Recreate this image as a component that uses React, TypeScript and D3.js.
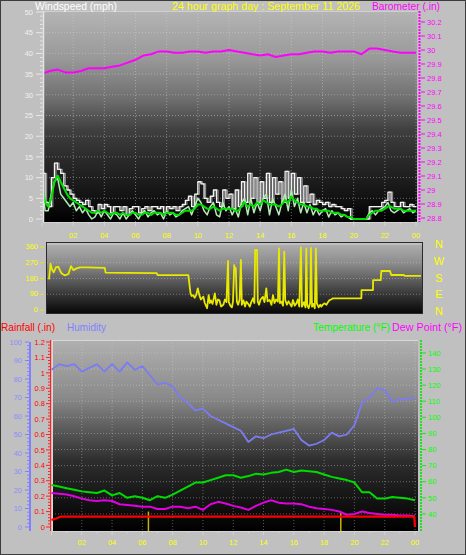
import React from 'react';
import * as d3 from 'd3';

// ---------------- data ----------------
const WIND_STEP_H = 0.2; // hours between wind samples
const windGust = [
  11, 4, 3, 10, 13.5, 12, 11, 8, 7, 6,
  5, 4.5, 4, 3.5, 4.5, 3, 2, 1.5, 3.5, 2.5,
  3.5, 3, 1.5, 3, 3, 2, 3, 1, 2.5, 3,
  3, 1.5, 2.5, 3, 2, 3, 3, 2.5, 3, 1.5,
  3, 2.5, 3, 2, 3, 3.5, 4.5, 5.5, 3, 6,
  9, 8.5, 5, 4, 5.5, 7, 4, 3, 7, 5,
  6, 2.5, 7, 3, 9, 4, 11, 5, 10, 4,
  9, 5, 11, 4, 10, 6, 9, 4, 11.5, 5,
  11, 6, 10, 4, 8, 4, 6, 3.5, 4.5, 4,
  3.5, 4, 3, 3.5, 3, 3, 2.5, 2, 2.5, 0,
  0, 0, 0, 0, 0, 3, 3, 3, 3, 4,
  4.5, 6.5, 4, 3, 3, 4, 3, 3, 3.5, 3,
  3,
];
const windSpeed = [
  9, 2, 2, 6, 9, 10, 6, 5, 4, 3,
  4, 2, 3, 1.5, 2.5, 1, 0, 0.5, 2, 0.5,
  2, 1, 0, 1.5, 1, 0, 1.5, 0, 1, 2,
  1, 0, 1.5, 2, 0.5, 1.5, 2, 1, 1.5, 0,
  2, 1, 1.5, 0.5, 1, 2, 2.5, 3, 1, 3,
  5, 4, 2, 1, 3, 4, 1, 0.5, 4, 2,
  3, 1, 2.5, 0.5, 4, 5, 1, 5, 1.5, 4,
  2, 5, 6, 1, 5, 3, 1, 4, 6, 2,
  7, 3, 5, 1.5, 4, 1.5, 3.5, 1, 2.5, 1,
  2, 2.5, 0.5, 2, 1, 1.5, 0.5, 1, 0.5, 0,
  0, 0, 0, 0, 0, 1.5, 2, 1, 2, 2.5,
  3, 4, 2, 1.5, 2, 2.5, 1.5, 2, 2.5, 1.5,
  2,
];
const windAvg = [
  8.5, 4, 3, 5, 9, 10.5, 9, 7.5, 6, 5,
  4.5, 4, 3.5, 3, 2.5, 2, 1.5, 1.5, 2, 1.5,
  2, 1.5, 1, 1.5, 1.5, 1, 1.5, 1, 1, 1.5,
  1.5, 1, 1, 1.5, 1.5, 1, 1.5, 1.5, 1.5, 1,
  1.5, 1.5, 1.5, 1, 1, 1.5, 2, 2, 2, 2.5,
  3.5, 3.5, 3, 2.5, 2.5, 3, 2.5, 2, 2.5, 2.5,
  2.5, 2.5, 2, 2, 3, 4, 3, 3.5, 3, 4,
  3.5, 4.5, 4, 3.5, 3.5, 3.5, 3, 3.5, 4.5, 4,
  5.5, 4.5, 4, 3.5, 3.5, 3, 3, 2.5, 2.5, 2,
  2, 2, 2, 1.5, 1.5, 1.5, 1, 1, 0.5, 0.5,
  0, 0, 0, 0, 0, 1, 1.5, 2, 2, 2,
  2.5, 3, 3, 2.5, 2.5, 2.5, 2, 2, 2, 2,
  2,
];

const HALF_STEP_H = 0.5; // hours between half-hourly samples
const barometer = [
  29.83, 29.85, 29.86, 29.84, 29.84, 29.85, 29.87, 29.87, 29.87, 29.88,
  29.89, 29.91, 29.93, 29.96, 29.97, 29.99, 29.99, 29.98, 29.98, 29.99,
  29.99, 29.98, 29.99, 29.99, 30.0, 29.99, 29.98, 29.97, 29.96, 29.97,
  29.95, 29.96, 29.97, 29.97, 29.98, 29.99, 29.99, 29.98, 29.99, 29.99,
  29.99, 29.97, 30.01, 30.01, 30.0, 29.99, 29.98, 29.98, 29.98,
];
const humidity = [
  85, 88, 87, 88, 84, 86, 88, 84, 88, 84,
  89, 85, 87, 82, 77, 78, 76, 70, 67, 63,
  64, 60, 58, 56, 54, 52, 46, 49, 48, 50,
  51, 52, 53, 47, 44, 45, 47, 51, 49, 50,
  55, 67, 70, 75, 74, 68, 69, 69, 70,
];
const temperature = [
  58, 57, 56, 55, 54, 53.5, 53, 54.5, 51.5, 53,
  50, 51, 50, 48.5, 51, 50, 52, 54.5, 57, 59.5,
  59.5, 61, 62.5, 64, 64, 62.5, 63.5, 65, 64.5, 65.5,
  66, 67.5, 66, 67, 66.5, 66, 64.5, 63, 62, 61,
  59.5, 53.5, 53.5, 49.5, 49.5, 50.5, 50, 49.5, 48.5,
];
const dewPoint = [
  53, 52.5, 52, 51, 49.5, 48.5, 48, 48.5, 48, 46,
  45.5, 45, 44.5, 44.5, 43, 43, 44.5, 44.5, 43.5, 44.5,
  42.5, 46, 47.5, 46.5, 45, 44, 42.5, 45, 47, 48.5,
  47, 46.5, 46.5, 46, 44.5, 43.5, 43, 42.5, 41.5, 39.5,
  40, 41.5, 40.5, 40, 39.5, 39.5, 39, 39, 38.5,
];

const rainHours = [0, 0.3, 0.6, 23.95, 24];
const rainTotal = [0.045, 0.055, 0.067, 0.067, 0];

const sunMarkers = [6.4, 19.1];

// wind direction: [hour, degrees]
const windDir: [number, number][] = [
  [0, 175], [0.1, 265], [0.2, 230], [0.3, 215], [0.45, 245], [0.6, 247], [0.8, 210], [1.0, 198],
  [1.25, 205], [1.42, 251], [1.57, 228], [1.78, 238], [2.0, 244], [2.5, 243], [3.0, 242], [3.6, 241],
  [3.65, 213], [5.0, 212], [6.95, 211], [7.0, 200], [8.99, 199],
  [9.13, 95], [9.2, 80], [9.3, 85], [9.4, 70], [9.5, 88], [9.6, 124], [9.7, 85], [9.8, 60], [9.96, 76],
  [10.05, 40], [10.2, 10], [10.3, 85], [10.38, 40], [10.45, 55], [10.55, 35], [10.7, 95], [10.8, 30],
  [10.9, 60], [11.0, 55], [11.1, 20], [11.25, 30], [11.35, 60], [11.45, 45], [11.55, 280], [11.6, 45],
  [11.7, 25], [11.8, 15], [11.87, 48], [11.95, 257], [12.0, 230], [12.05, 240], [12.12, 48], [12.2, 30],
  [12.3, 60], [12.38, 286], [12.44, 30], [12.55, 55], [12.65, 20], [12.73, 48], [12.85, 35], [12.95, 19],
  [13.05, 45], [13.16, 67], [13.25, 40], [13.3, 343], [13.42, 343], [13.47, 48], [13.55, 30], [13.65, 60],
  [13.8, 76], [13.9, 45], [14.02, 124], [14.1, 50], [14.24, 57], [14.35, 30], [14.45, 85], [14.55, 40],
  [14.65, 60], [14.77, 48], [14.84, 352], [14.9, 40], [15.0, 48], [15.1, 25], [15.18, 333], [15.24, 57],
  [15.35, 30], [15.45, 50], [15.53, 38], [15.65, 20], [15.74, 57], [15.85, 25], [15.96, 38], [16.05, 60],
  [16.15, 20], [16.25, 358], [16.32, 19], [16.45, 45], [16.55, 15], [16.6, 352], [16.66, 30], [16.75, 10],
  [16.85, 40], [16.9, 355], [16.97, 19], [17.05, 35], [17.15, 10], [17.22, 352], [17.28, 38], [17.4, 15],
  [17.5, 30], [17.57, 19], [17.65, 30], [17.78, 38], [17.9, 30], [18.0, 45], [18.1, 57], [18.2, 60],
  [18.32, 67], [20.15, 67], [20.16, 114], [20.9, 114], [20.91, 171], [21.4, 171], [21.44, 223],
  [22.0, 223], [22.08, 200], [22.9, 200], [22.95, 195], [24, 195],
];

const hourLabels = ['02', '04', '06', '08', '10', '12', '14', '16', '18', '20', '22', '00'];
const windTicks = [0, 5, 10, 15, 20, 25, 30, 35, 40, 45, 50];
const baroTicks = [28.8, 28.9, 29.0, 29.1, 29.2, 29.3, 29.4, 29.5, 29.6, 29.7, 29.8, 29.9, 30.0, 30.1, 30.2];
const dirTicks = [0, 90, 180, 270, 360];
const compassLabels = ['N', 'E', 'S', 'W', 'N']; // at 0, 90, 180, 270, 360
const humTicks = [0, 10, 20, 30, 40, 50, 60, 70, 80, 90, 100];
const rainTicks = [0, 0.1, 0.2, 0.3, 0.4, 0.5, 0.6, 0.7, 0.8, 0.9, 1.0, 1.1, 1.2];
const tempTicks = [40, 50, 60, 70, 80, 90, 100, 110, 120, 130, 140];

// ---------------- drawing ----------------
const FONT = "'Liberation Sans', Arial, Helvetica, sans-serif";
const TICK_FS = 7.5;
const fmt1 = (v: number) => String(Number(v.toFixed(1)));

export default function App() {
  const xTop = d3.scaleLinear().domain([0, 24]).range([42, 416]);
  const yWind = d3.scaleLinear().domain([0, 50]).range([219, 12]);
  const yBaro = d3.scaleLinear().domain([28.8, 30.2]).range([218, 22]);
  const xMid = d3.scaleLinear().domain([0, 24]).range([49, 421]);
  const yDir = d3.scaleLinear().domain([0, 360]).range([310, 247]).clamp(true);
  const yCompass = d3.scaleLinear().domain([0, 360]).range([315.3, 248]);
  const xBot = d3.scaleLinear().domain([0, 24]).range([51.5, 415]);
  const yHum = d3.scaleLinear().domain([0, 100]).range([527, 342]);
  const yRain = d3.scaleLinear().domain([0, 1.2]).range([527, 342]);
  const yTemp = d3.scaleLinear().domain([30, 145]).range([530, 344.9]);

  const windT = windGust.map((_, i) => i * WIND_STEP_H);
  const halfT = barometer.map((_, i) => i * HALF_STEP_H);

  const windPath = (vals: number[], curve: d3.CurveFactory) =>
    d3.line<number>().x((_, i) => xTop(windT[i])).y((d) => yWind(d)).curve(curve)(vals) || '';
  const halfPath = (vals: number[], y: d3.ScaleLinear<number, number>) =>
    d3.line<number>().x((_, i) => xBot(halfT[i])).y((d) => y(d))(vals) || '';

  const baroPath = d3.line<number>().x((_, i) => xTop(halfT[i])).y((d) => yBaro(d))(barometer) || '';
  const dirPath = d3.line<[number, number]>().x((d) => xMid(d[0])).y((d) => yDir(d[1]))(windDir) || '';
  const rainPath = d3.line<number>().x((_, i) => xBot(rainHours[i])).y((d) => yRain(d))(rainTotal) || '';

  const hours = d3.range(0, 25);
  const evenHours = hourLabels.map((_, i) => (i + 1) * 2);

  const top = { x: 43, y: 11, w: 374, h: 211 };
  const mid = { x: 47, y: 243, w: 375, h: 70 };
  const bot = { x: 52, y: 340, w: 366, h: 191 };

  return (
    <svg
      width={466}
      height={555}
      style={{ position: 'absolute', left: 0, top: 0, display: 'block' }}
      fontFamily={FONT}
    >
      <defs>
        <linearGradient id="gTop" x1="0" y1="0" x2="0" y2="1">
          <stop offset="0" stopColor="#b4b4b4" />
          <stop offset="0.23" stopColor="#989898" />
          <stop offset="0.42" stopColor="#6e6e6e" />
          <stop offset="0.56" stopColor="#404040" />
          <stop offset="0.7" stopColor="#2a2a2a" />
          <stop offset="0.9" stopColor="#101010" />
          <stop offset="1" stopColor="#000000" />
        </linearGradient>
        <linearGradient id="gMid" x1="0" y1="0" x2="0" y2="1">
          <stop offset="0" stopColor="#b0b0b0" />
          <stop offset="0.3" stopColor="#8a8a8a" />
          <stop offset="0.55" stopColor="#5a5a5a" />
          <stop offset="0.8" stopColor="#2a2a2a" />
          <stop offset="1" stopColor="#080808" />
        </linearGradient>
        <linearGradient id="gBot" x1="0" y1="0" x2="0" y2="1">
          <stop offset="0" stopColor="#b0b0b0" />
          <stop offset="0.3" stopColor="#8a8a8a" />
          <stop offset="0.47" stopColor="#5a5a5a" />
          <stop offset="0.63" stopColor="#2e2e2e" />
          <stop offset="0.8" stopColor="#181818" />
          <stop offset="1" stopColor="#000000" />
        </linearGradient>
        <clipPath id="cTop">
          <rect x={top.x} y={top.y} width={top.w} height={top.h} />
        </clipPath>
        <clipPath id="cMid">
          <rect x={mid.x} y={mid.y} width={mid.w} height={mid.h} />
        </clipPath>
        <clipPath id="cBot">
          <rect x={bot.x - 1} y={bot.y} width={bot.w + 1} height={bot.h} />
        </clipPath>
      </defs>

      {/* page */}
      <rect x={0.5} y={0.5} width={465} height={554} fill="#c0c0c0" stroke="#3c3c3c" />

      {/* ============ TOP PANEL ============ */}
      <rect x={top.x} y={top.y} width={top.w} height={top.h} fill="url(#gTop)" />
      <g stroke="#d8d8d8" strokeOpacity={0.45} strokeDasharray="1,2">
        {evenHours.map((h) => (
          <line key={'tv' + h} x1={xTop(h)} x2={xTop(h)} y1={top.y} y2={top.y + top.h} />
        ))}
        {windTicks.slice(1, -1).map((v) => (
          <line key={'th' + v} x1={top.x} x2={top.x + top.w} y1={yWind(v)} y2={yWind(v)} />
        ))}
      </g>
      <line x1={top.x} x2={top.x + top.w} y1={top.y + 0.5} y2={top.y + 0.5} stroke="#d0d0d0" />
      <g clipPath="url(#cTop)" fill="none" strokeLinejoin="round">
        <path d={baroPath} stroke="#ff00ff" strokeWidth={2} />
        <path d={windPath(windGust, d3.curveStepAfter)} stroke="#a8a8a8" strokeOpacity={0.8} strokeWidth={1.2} transform="translate(1.5,0)" />
        <path d={windPath(windGust, d3.curveStepAfter)} stroke="#f4f4f4" strokeWidth={1.3} />
        <path d={windPath(windSpeed, d3.curveLinear)} stroke="#b4ecb4" strokeWidth={1.5} />
        <path d={windPath(windAvg, d3.curveLinear)} stroke="#00e000" strokeWidth={2} />
      </g>
      {/* wind axis (left) */}
      <line x1={43.5} x2={43.5} y1={top.y} y2={top.y + top.h} stroke="#e4e4e4" strokeWidth={1.5} />
      <g stroke="#e8e8e8">
        {d3.range(0, 51).map((v) => (
          <line key={'wt' + v} x1={v % 5 === 0 ? 36 : 40} x2={42.5} y1={yWind(v)} y2={yWind(v)} />
        ))}
      </g>
      <g fill="#f0f0f0" fontSize={TICK_FS} textAnchor="end">
        {windTicks.map((v) => (
          <text key={'wl' + v} x={33} y={yWind(v) + 2.7}>{v}</text>
        ))}
      </g>
      {/* barometer axis (right) */}
      <line x1={419.5} x2={419.5} y1={top.y} y2={top.y + top.h} stroke="#ff00ff" strokeWidth={2} strokeDasharray="2,1" />
      <g stroke="#ff00ff">
        {baroTicks.map((v) => (
          <line key={'bt' + v} x1={421} x2={425} y1={yBaro(v)} y2={yBaro(v)} />
        ))}
      </g>
      <g fill="#ff00ff" fontSize={TICK_FS}>
        {baroTicks.map((v) => (
          <text key={'bl' + v} x={427} y={yBaro(v) + 2.7}>{fmt1(v)}</text>
        ))}
      </g>
      {/* x axis (top) */}
      <line x1={top.x} x2={top.x + top.w} y1={222.5} y2={222.5} stroke="#d4d4d4" />
      <g stroke="#d4d4d4">
        {hours.map((h) => (
          <line key={'xt' + h} x1={xTop(h)} x2={xTop(h)} y1={222.5} y2={h % 2 === 0 ? 226 : 224.5} />
        ))}
      </g>
      <g fill="#ffff00" fontSize={TICK_FS} textAnchor="middle">
        {evenHours.map((h, i) => (
          <text key={'xl' + h} x={xTop(h)} y={237.5}>{hourLabels[i]}</text>
        ))}
      </g>
      {/* titles */}
      <g fontSize={11}>
        <text x={35} y={10} fill="#ffffff" textLength={82} lengthAdjust="spacingAndGlyphs">Windspeed (mph)</text>
        <text x={172} y={10} fill="#ffff00" textLength={188} lengthAdjust="spacingAndGlyphs">24 hour graph day : September 11 2026</text>
        <text x={372} y={10} fill="#ff00ff" textLength={68} lengthAdjust="spacingAndGlyphs">Barometer (.in)</text>
      </g>

      {/* ============ MIDDLE PANEL ============ */}
      <rect x={mid.x} y={mid.y} width={mid.w} height={mid.h} fill="url(#gMid)" />
      <g stroke="#d8d8d8" strokeOpacity={0.4} strokeDasharray="1,2">
        {dirTicks.slice(1, -1).map((v) => (
          <line key={'dg' + v} x1={mid.x} x2={mid.x + mid.w} y1={yDir(v)} y2={yDir(v)} />
        ))}
      </g>
      <line x1={mid.x} x2={mid.x + mid.w} y1={mid.y + 1} y2={mid.y + 1} stroke="#d0d0d0" />
      <g clipPath="url(#cMid)">
        <path d={dirPath} fill="none" stroke="#e8e800" strokeWidth={1.8} strokeLinejoin="round" />
      </g>
      <rect x={mid.x - 0.5} y={mid.y - 0.5} width={mid.w + 1} height={mid.h + 1} fill="none" stroke="#2a2a2a" />
      <g stroke="#e8e800">
        {dirTicks.map((v) => (
          <line key={'dt' + v} x1={40} x2={44} y1={yDir(v)} y2={yDir(v)} />
        ))}
      </g>
      <g fill="#ffff00" fontSize={TICK_FS} textAnchor="end">
        {dirTicks.map((v) => (
          <text key={'dl' + v} x={38} y={yDir(v) + 2.2}>{v}</text>
        ))}
      </g>
      <g fill="#ffff00" fontSize={11} textAnchor="middle">
        {dirTicks.map((v, i) => (
          <text key={'cl' + v} x={439} y={yCompass(v)}>{compassLabels[i]}</text>
        ))}
      </g>

      {/* ============ BOTTOM PANEL ============ */}
      <rect x={bot.x} y={bot.y} width={bot.w} height={bot.h} fill="url(#gBot)" />
      <g stroke="#d8d8d8" strokeOpacity={0.4} strokeDasharray="1,2">
        {evenHours.map((h) => (
          <line key={'bv' + h} x1={xBot(h)} x2={xBot(h)} y1={bot.y} y2={bot.y + bot.h} />
        ))}
        {tempTicks.map((v) => (
          <line key={'bh' + v} x1={bot.x} x2={bot.x + bot.w} y1={yTemp(v)} y2={yTemp(v)} />
        ))}
      </g>
      <line x1={bot.x} x2={bot.x + bot.w} y1={bot.y + 0.5} y2={bot.y + 0.5} stroke="#d8d8d8" />
      <line x1={bot.x + 0.5} x2={bot.x + 0.5} y1={bot.y} y2={bot.y + bot.h} stroke="#d8d8d8" />
      <g stroke="#c8b400" strokeWidth={1.5}>
        {sunMarkers.map((h) => (
          <line key={'sun' + h} x1={xBot(h)} x2={xBot(h)} y1={yRain(0.1)} y2={bot.y + bot.h} />
        ))}
      </g>
      <g clipPath="url(#cBot)" fill="none" strokeLinejoin="round">
        <path d={halfPath(humidity, yHum)} stroke="#7b7bf4" strokeWidth={1.8} />
        <path d={halfPath(temperature, yTemp)} stroke="#00dc00" strokeWidth={2} />
        <path d={halfPath(dewPoint, yTemp)} stroke="#e000e0" strokeWidth={2} />
        <path d={rainPath} stroke="#ff0000" strokeWidth={2.2} />
      </g>
      {/* humidity axis */}
      <line x1={30} x2={30} y1={342} y2={bot.y + bot.h} stroke="#8080ff" strokeWidth={2} />
      <g stroke="#8080ff">
        {d3.range(0, 101, 2).map((v) => (
          <line key={'ht' + v} x1={v % 10 === 0 ? 25 : 27} x2={29} y1={yHum(v)} y2={yHum(v)} />
        ))}
      </g>
      <g fill="#8c8cff" fontSize={TICK_FS} textAnchor="end">
        {humTicks.map((v) => (
          <text key={'hl' + v} x={22} y={yHum(v) + 2.7}>{v}</text>
        ))}
      </g>
      {/* rain axis */}
      <line x1={50.5} x2={50.5} y1={bot.y} y2={bot.y + bot.h} stroke="#ff2020" />
      <g stroke="#ff2020">
        {d3.range(0, 61).map((k) => (
          <line key={'rt' + k} x1={k % 5 === 0 ? 46 : 48} x2={50} y1={yRain(k * 0.02)} y2={yRain(k * 0.02)} />
        ))}
      </g>
      <g fill="#ff0000" fontSize={TICK_FS} textAnchor="end">
        {rainTicks.map((v) => (
          <text key={'rl' + v} x={45} y={yRain(v) + 2.7}>{fmt1(v)}</text>
        ))}
      </g>
      {/* temperature axis */}
      <line x1={421} x2={421} y1={bot.y} y2={bot.y + bot.h} stroke="#20e020" strokeWidth={2} strokeDasharray="2,1" />
      <g stroke="#20e020">
        {tempTicks.map((v) => (
          <line key={'tt' + v} x1={422} x2={426} y1={yTemp(v)} y2={yTemp(v)} />
        ))}
      </g>
      <g fill="#00ff00" fontSize={TICK_FS}>
        {tempTicks.map((v) => (
          <text key={'tl' + v} x={428} y={yTemp(v) + 2.7}>{v}</text>
        ))}
      </g>
      {/* x axis (bottom) */}
      <line x1={bot.x} x2={bot.x + bot.w} y1={531.5} y2={531.5} stroke="#d4d4d4" />
      <g stroke="#d4d4d4">
        {hours.map((h) => (
          <line key={'bx' + h} x1={xBot(h)} x2={xBot(h)} y1={531.5} y2={h % 2 === 0 ? 535 : 533.5} />
        ))}
      </g>
      <g fill="#ffff00" fontSize={TICK_FS} textAnchor="middle">
        {evenHours.map((h, i) => (
          <text key={'bxl' + h} x={xBot(h)} y={545}>{hourLabels[i]}</text>
        ))}
      </g>
      {/* bottom titles */}
      <g fontSize={11}>
        <text x={1} y={331} fill="#ff0000" textLength={54} lengthAdjust="spacingAndGlyphs">Rainfall (.in)</text>
        <text x={67} y={331} fill="#8080ff" textLength={39} lengthAdjust="spacingAndGlyphs">Humidity</text>
        <text x={313} y={331} fill="#00ff00" textLength={77} lengthAdjust="spacingAndGlyphs">Temperature (°F)</text>
        <text x={392} y={331} fill="#ff00ff" textLength={70} lengthAdjust="spacingAndGlyphs">Dew Point (°F)</text>
      </g>
    </svg>
  );
}
